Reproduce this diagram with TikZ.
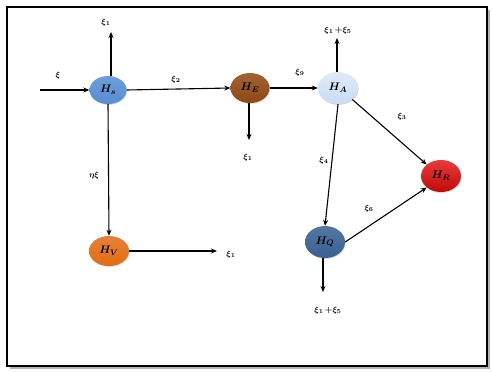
\documentclass[tikz,border=0pt]{standalone}
\usepackage{amsmath,bm}
\usetikzlibrary{arrows.meta,shadows,shapes.geometric}
\definecolor{cS}{RGB}{84,141,212}
\definecolor{cE}{RGB}{145,72,18}
\definecolor{cA}{RGB}{200,220,245}
\definecolor{cR}{RGB}{228,10,10}
\definecolor{cQ}{RGB}{55,96,146}
\definecolor{cV}{RGB}{226,108,18}
\tikzset{
  hnode/.style={draw=none,shape=ellipse,minimum width=39pt,minimum height=30pt,inner sep=0pt,font=\fontsize{11}{13}\selectfont,drop shadow={shadow xshift=0.6pt,shadow yshift=-0.8pt,opacity=0.35}},
  arr/.style={-{Stealth[length=6pt,width=5pt]},line width=1.1pt},
  lab/.style={font=\fontsize{8.5}{10}\selectfont,inner sep=0pt}
}
\begin{document}
\begin{tikzpicture}[x=1pt,y=-1pt]
\useasboundingbox (0,0) rectangle (492,372);
\fill[black!30] (10,10) rectangle (490,369);
\fill[white] (7,7) rectangle (487,366);
\draw[line width=2pt] (7,7) rectangle (487,366);
% nodes
\node[hnode,top color=cS!85,bottom color=cS,minimum width=37pt,minimum height=28pt] (S) at (108,90) {$\bm{H_s}$};
\node[hnode,top color=cE!85,bottom color=cE] (E) at (250,88) {$\bm{H_E}$};
\node[hnode,top color=cA!60,bottom color=cA,minimum width=40pt,minimum height=32pt] (A) at (338,88) {$\bm{H_A}$};
\node[hnode,top color=cR!80,bottom color=cR!85!black,minimum width=40pt,minimum height=32pt] (R) at (441,176) {$\bm{H_R}$};
\node[hnode,top color=cQ!85,bottom color=cQ,minimum width=40pt,minimum height=32pt] (Q) at (325,242) {$\bm{H_Q}$};
\node[hnode,top color=cV!85,bottom color=cV,minimum width=40pt,minimum height=30pt] (V) at (109,251) {$\bm{H_V}$};
% free ends
\coordinate (in) at (40,90);
\coordinate (Sup) at (111,32);
\coordinate (Edn) at (249,140);
\coordinate (Aup) at (337,38);
\coordinate (Qdn) at (323,292);
\coordinate (Vr) at (217,251);
% connectors
\draw[arr] (in) -- (S.west);
\draw[arr] (S.north -| Sup) -- (Sup);
\draw[arr] (S.east) -- (E.west);
\draw[arr] (E.south -| Edn) -- (Edn);
\draw[arr] (E.east) -- (A.west);
\draw[arr] (A.north -| Aup) -- (Aup);
\draw[arr] (A.south east) -- (R.north west);
\draw[arr] (A.south) -- (Q.north);
\draw[arr] (Q.east) -- (R.south west);
\draw[arr] (Q.south -| Qdn) -- (Qdn);
\draw[arr] (S.south) -- (V.north);
\draw[arr] (V.east) -- (Vr);
% labels
\node[lab] (l0) at (58,75) {$\bm{\xi}$};
\node[lab] (l1) at (106,22) {$\bm{\xi_1}$};
\node[lab] (l2) at (176,79) {$\bm{\xi_2}$};
\node[lab] (l3) at (248,157) {$\bm{\xi_1}$};
\node[lab] (l4) at (300,72) {$\bm{\xi_9}$};
\node[lab] (l5) at (338,30) {$\bm{\xi_1}\,\mathord{\bm{+}}\bm{\xi_5}$};
\node[lab] (l6) at (402,116) {$\bm{\xi_3}$};
\node[lab] (l7) at (324,160) {$\bm{\xi_4}$};
\node[lab] (l8) at (369,208) {$\bm{\xi_6}$};
\node[lab] (l9) at (328,310) {$\bm{\xi_1}\,\mathord{\bm{+}}\bm{\xi_5}$};
\node[lab] (l10) at (94,175) {$\bm{\eta\xi}$};
\node[lab] (l11) at (231,254) {$\bm{\xi_1}$};
\end{tikzpicture}
\end{document}
